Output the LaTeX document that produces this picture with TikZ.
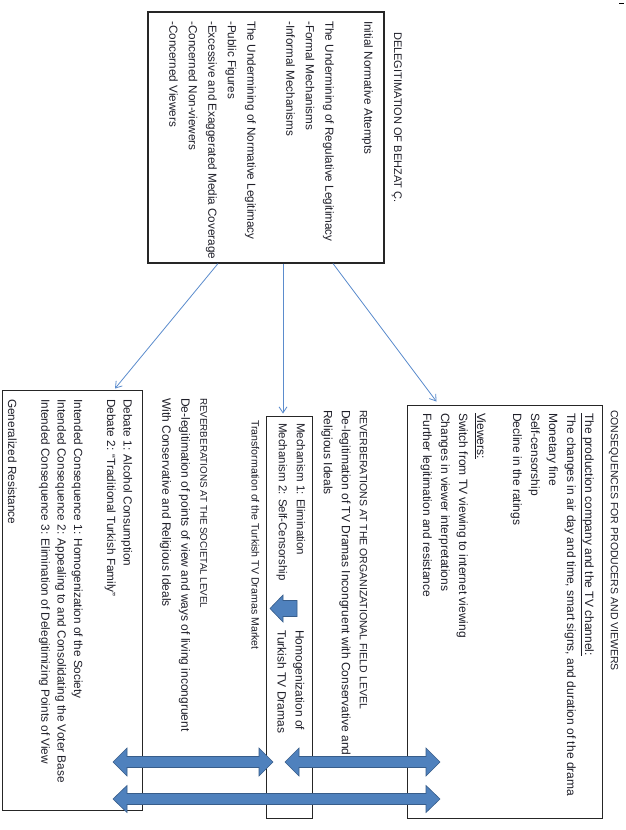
\documentclass[tikz,border=0pt]{standalone}
\usepackage{fontspec}
\setmainfont{Liberation Sans}
\usetikzlibrary{arrows.meta}
\definecolor{conncol}{RGB}{91,140,205}
\definecolor{bfill}{RGB}{79,129,189}
\definecolor{bline}{RGB}{56,93,138}
\definecolor{txtcol}{RGB}{30,30,40}
\newcommand\dblarrow[4]{% #1 left tip x, #2 right tip x, #3 centre y, #4 head half-width
  \path[blockarrow] (#1,#3) -- ({#1+14},{#3-#4}) -- ({#1+14},{#3-5.5}) -- ({#2-14},{#3-5.5})
    -- ({#2-14},{#3-#4}) -- (#2,#3) -- ({#2-14},{#3+#4}) -- ({#2-14},{#3+5.5})
    -- ({#1+14},{#3+5.5}) -- ({#1+14},{#3+#4}) -- cycle;}
\newcommand\hdfont[1]{\fontsize{#1}{18}\selectfont}
\begin{document}
\begin{tikzpicture}[x=1pt,y=-1pt,
  box/.style={draw=black!85, line width=0.9pt, inner sep=0pt},
  txtblk/.style={rotate=-90, anchor=north west, inner sep=0pt, align=left, text=txtcol},
  connector/.style={draw=conncol, line width=0.8pt, -{Straight Barb[length=6pt,width=8pt]}},
  blockarrow/.style={fill=bfill, draw=bline, line width=0.6pt}]
\useasboundingbox (0,0) rectangle (626,830);
\fill[white] (0,0) rectangle (626,830);

% boxes
\node[box, line width=1.1pt, minimum width=236pt, minimum height=251pt] (topbox) at (266,137.5) {};
\node[box, minimum width=195pt, minimum height=413pt] (rbox) at (504.5,611.5) {};
\node[box, minimum width=46pt, minimum height=402pt] (mbox) at (289,617) {};
\node[box, minimum width=140pt, minimum height=420pt] (lbox) at (72,600) {};

% texts
\node[txtblk, font=\fontsize{11}{18}\selectfont] (title1) at (402,32) {DELEGITIMATION OF BEHZAT Ç.};
\node[txtblk, font=\fontsize{11.7}{19.5}\selectfont] (toptext) at (373,21) {Initial Normative Attempts\\[19.5pt]
The Undermining of Regulative Legitimacy\\
-Formal Mechanisms\\
-Informal Mechanisms\\[19.5pt]
The Undermining of Normative Legitimacy\\
-Public Figures\\
-Excessive and Exaggerated Media Coverage\\
-Concerned Non-viewers\\
-Concerned Viewers};

\node[txtblk, font=\fontsize{10.5}{18}\selectfont] (title2) at (618.5,410) {CONSEQUENCES FOR PRODUCERS AND VIEWERS};
\node[txtblk, font=\fontsize{12}{18}\selectfont] (rtext) at (594,413) {\underline{The production company and the TV channel:}\\
The changes in air day and time, smart signs, and duration of the drama\\
Monetary fine\\
Self-censorship\\
Decline in the ratings\\[18pt]
\underline{Viewers:}\\
Switch from TV viewing to internet viewing\\
Changes in viewer interpretations\\
Further legitimation and resistance};

\node[txtblk, font=\fontsize{12}{18}\selectfont] (orgtext) at (367.5,410) {{\hdfont{10.5}REVERBERATIONS AT THE ORGANIZATIONAL FIELD LEVEL}\\
De-legitimation of TV Dramas Incongruent with Conservative and\\
Religious Ideals};
\node[txtblk, font=\fontsize{11.5}{18}\selectfont] (mechtext) at (305.5,423) {Mechanism 1: Elimination\\
Mechanism 2: Self-Censorship};
\node[txtblk, font=\fontsize{12}{18}\selectfont] (homtext) at (304.5,630) {Homogenization of\\
Turkish TV Dramas};
\node[txtblk, font=\fontsize{10.6}{18}\selectfont] (transtext) at (259.5,420) {Transformation of the Turkish TV Dramas Market};

\node[txtblk, font=\fontsize{12}{19}\selectfont] (soctext) at (207.5,398) {{\hdfont{9.8}REVERBERATIONS AT THE SOCIETAL LEVEL}\\
De-legitimation of points of view and ways of living incongruent\\
With Conservative and Religious Ideals};
\node[txtblk, font=\fontsize{11.8}{16.5}\selectfont] (ltext) at (132.5,399) {Debate 1: Alcohol Consumption\\
Debate 2: “Traditional Turkish Family”\\[16.5pt]
Intended Consequence 1: Homogenization of the Society\\
Intended Consequence 2: Appealing to and Consolidating the Voter Base\\
Intended Consequence 3: Elimination of Delegitimizing Points of View\\[16.5pt]
Generalized Resistance};

% connectors
\draw[connector] ([xshift=-48pt]topbox.south) -- ([xshift=43pt,yshift=1pt]lbox.north);
\draw[connector] ([xshift=17pt]topbox.south) -- ([xshift=-6pt,yshift=2pt]mbox.north);
\draw[connector] ([xshift=67pt]topbox.south) -- ([xshift=-68pt,yshift=3pt]rbox.north);

% block arrows
\path[blockarrow] (270,608.5) -- (283,595) -- (283,600.5) -- (297,600.5) -- (297,616.5) -- (283,616.5) -- (283,622) -- cycle;
\dblarrow{113}{273}{762}{14}
\dblarrow{285}{440}{762}{14}
\dblarrow{113}{440}{799}{13.5}

\draw[black, line width=0.8pt] (619,3) -- (624,3);
\end{tikzpicture}
\end{document}
